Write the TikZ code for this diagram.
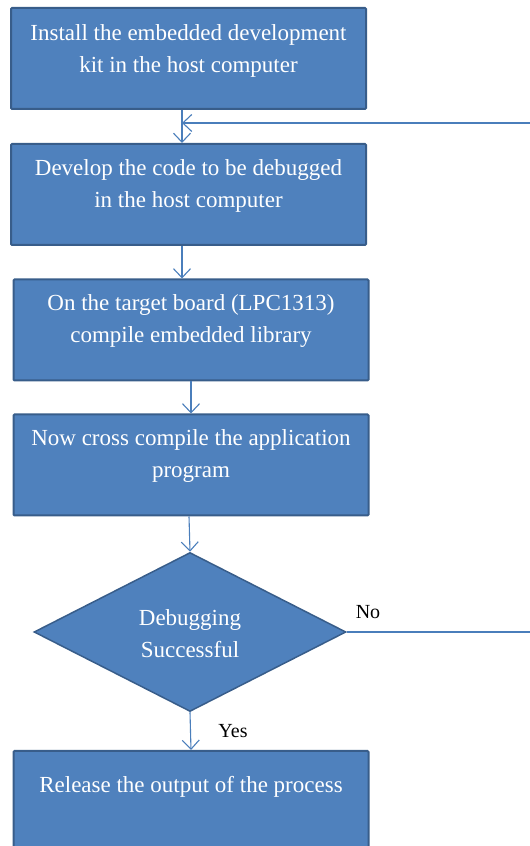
\documentclass[tikz,border=0pt]{standalone}
\usepackage{fontspec}
\setmainfont{Liberation Serif}
\newfontfamily\tnr{Liberation Serif}
\usetikzlibrary{arrows.meta,shapes.geometric}
\definecolor{boxfill}{HTML}{4F81BD}
\definecolor{boxline}{HTML}{385D8A}
\definecolor{conn}{HTML}{4A7EBB}
\tikzset{
  procbox/.style={draw=boxline, fill=boxfill, line width=2pt, rounded corners=1pt,
    minimum width=355pt, minimum height=101pt, inner sep=0pt},
  decbox/.style={draw=boxline, fill=boxfill, line width=1.5pt, diamond,
    minimum width=312pt, minimum height=159pt, inner sep=0pt},
  btext/.style={text=white, align=center, font=\tnr\fontsize{23}{32}\selectfont, inner sep=0pt},
  ltext/.style={text=black, font=\tnr\fontsize{20}{22}\selectfont, inner sep=0pt},
  conn/.style={draw=conn, line width=1.1pt, -{Straight Barb[length=9pt,width=17pt,line width=1.1pt]}},
}
\begin{document}
\begin{tikzpicture}[x=1pt,y=1pt]
\useasboundingbox (0,0) rectangle (530,846);
% boxes (y = 846 - pixel y)
\node[procbox] (b1) at (188.5,787.5) {};
\node[procbox] (b2) at (188.5,651.5) {};
\node[procbox] (b3) at (191,516) {};
\node[procbox] (b4) at (191,381) {};
\node[decbox]  (d)  at (190,214) {};
\node[procbox] (b5) at (191,44.5) {};
% texts
\node[btext] (t1) at (188.5,795) {Install the embedded development\\kit in the host computer};
\node[btext] (t2) at (188.5,660) {Develop the code to be debugged\\in the host computer};
\node[btext] (t3) at (191,525) {On the target board (LPC1313)\\compile embedded library};
\node[btext] (t4) at (191,390) {Now cross compile the application\\program};
\node[btext] (td) at (190,212) {Debugging\\Successful};
\node[btext] (t5) at (191,59) {Release the output of the process};
\node[ltext] (no) at (368,234) {No};
\node[ltext] (yes) at (233,115) {Yes};
% connectors
\draw[conn] ([xshift=-6.5pt]b1.south) -- ([xshift=-6.5pt]b2.north);
\draw[conn] ([xshift=-6.5pt]b2.south) -- ([xshift=-9pt]b3.north);
\draw[conn] (b3.south) -- (b4.north);
\draw[conn] ([xshift=-2pt]b4.south) -- (d.north);
\draw[conn] (d.south) -- (b5.north);
\coordinate (fb) at (182,723);
\coordinate (r1) at (532,214);
\coordinate (r2) at (532,723);
\draw[conn] (d.east) -- (r1) -- (r2) -- (fb);
\end{tikzpicture}
\end{document}
